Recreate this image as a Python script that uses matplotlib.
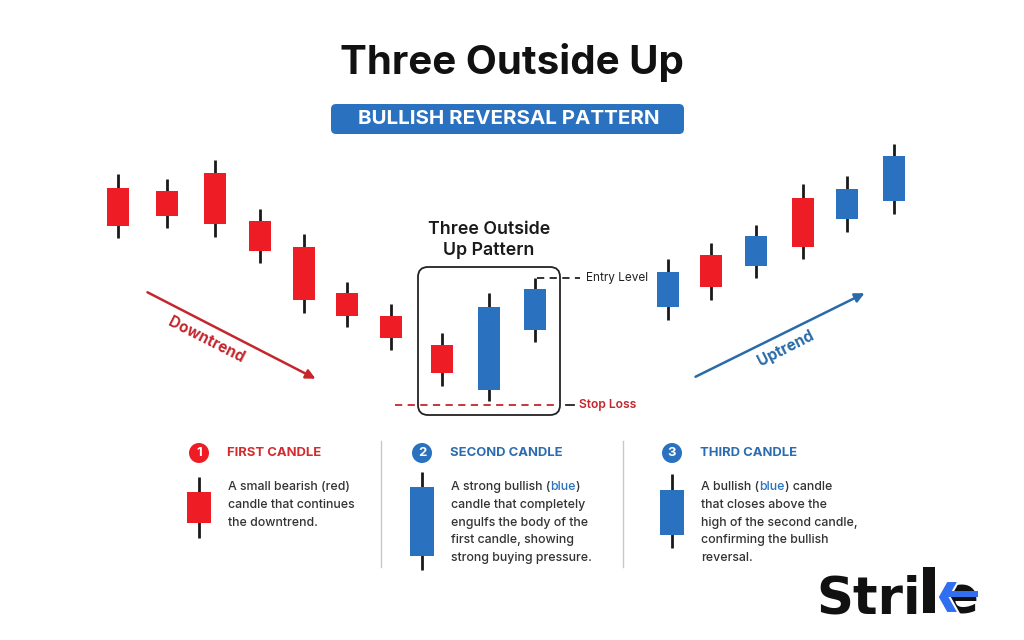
import matplotlib
matplotlib.use("Agg")
import matplotlib.pyplot as plt
from matplotlib.patches import FancyBboxPatch, Circle, Polygon, Rectangle

plt.rcParams["font.family"] = ["Inter", "DejaVu Sans"]

RED = "#ee1c25"
BLUE = "#2a72c0"
WICK = "#1a1a1a"
DARK_RED = "#c4262c"
TEXT = "#333333"

# candle data, in image rows (smaller = higher price)
candle_x = [118, 167, 215, 260, 304, 347, 391, 442, 489, 535, 668, 711, 756, 803, 847, 894]
highs = [174, 179, 160, 209, 234, 282, 304, 333, 293, 278, 259, 243, 225, 184, 176, 144]
opens = [188, 191, 173, 221, 247, 293, 316, 345, 390, 330, 307, 255, 266, 198, 219, 201]
closes = [226, 216, 224, 251, 300, 316, 338, 373, 307, 289, 272, 287, 236, 247, 189, 156]
lows = [238, 228, 237, 263, 313, 327, 350, 386, 401, 342, 320, 300, 278, 259, 232, 214]
bullish = [False] * 8 + [True, True, True, False, True, False, True, True]

# legend cards
card_x = [199, 422, 672]
card_titles = ["FIRST CANDLE", "SECOND CANDLE", "THIRD CANDLE"]
card_colors = [RED, BLUE, BLUE]
card_icon = [  # high, body top, body bottom, low
    (477, 492, 523, 538),
    (472, 487, 556, 570),
    (474, 490, 535, 548),
]
card_text = [
    [[("A small bearish (red)", TEXT)],
     [("candle that continues", TEXT)],
     [("the downtrend.", TEXT)]],
    [[("A strong bullish (", TEXT), ("blue", BLUE), (")", TEXT)],
     [("candle that completely", TEXT)],
     [("engulfs the body of the", TEXT)],
     [("first candle, showing", TEXT)],
     [("strong buying pressure.", TEXT)]],
    [[("A bullish (", TEXT), ("blue", BLUE), (") candle", TEXT)],
     [("that closes above the", TEXT)],
     [("high of the second candle,", TEXT)],
     [("confirming the bullish", TEXT)],
     [("reversal.", TEXT)]],
]

fig = plt.figure(figsize=(10.24, 6.4), dpi=100)
ax = fig.add_axes([0, 0, 1, 1])
ax.set_xlim(0, 1024)
ax.set_ylim(640, 0)
ax.axis("off")
renderer = fig.canvas.get_renderer()

# title + banner
ax.text(512, 63, "Three Outside Up", ha="center", va="center",
        fontsize=29, fontweight="bold", color="#111111")
ax.add_patch(FancyBboxPatch((331, 104), 353, 30, boxstyle="round,pad=0,rounding_size=5",
                            fc=BLUE, ec="none"))
ax.text(509, 119.5, "BULLISH REVERSAL PATTERN", ha="center", va="center",
        fontsize=14.8, fontweight="bold", color="white")

# candles
for x, h, o, c, l, up in zip(candle_x, highs, opens, closes, lows, bullish):
    col = BLUE if up else RED
    ax.vlines(x, h, l, color=WICK, lw=2, zorder=2)
    top, bot = min(o, c), max(o, c)
    ax.bar(x, bot - top, bottom=top, width=22, color=col, zorder=3)

# pattern box
ax.add_patch(FancyBboxPatch((418, 267), 142, 148, boxstyle="round,pad=0,rounding_size=10",
                            fc="none", ec="#222222", lw=1.3, zorder=4))
ax.text(489, 240, "Three Outside\nUp Pattern", ha="center", va="center",
        fontsize=12.8, fontweight="semibold", color="#1a1a1a", linespacing=1.25)

# entry / stop levels
ax.plot([537, 580], [highs[9], highs[9]], ls=(0, (4, 3)), color="#222222", lw=1.3)
ax.text(586, highs[9], "Entry Level", va="center", fontsize=8.5, color="#222222")
ax.plot([395, 557], [lows[8] + 4, lows[8] + 4], ls=(0, (4, 3)), color=DARK_RED, lw=1.3)
ax.plot([566, 574], [lows[8] + 4, lows[8] + 4], color="#222222", lw=1.3)
ax.text(579, lows[8] + 4, "Stop Loss", va="center", fontsize=8.7,
        fontweight="semibold", color=DARK_RED)

# trend arrows
ax.annotate("", xy=(318, 380), xytext=(145, 291),
            arrowprops=dict(arrowstyle="-|>", color=DARK_RED, lw=1.8, mutation_scale=14))
ax.text(206, 340, "Downtrend", ha="center", va="center", rotation=-27,
        fontsize=11, fontweight="bold", color=DARK_RED)
ax.annotate("", xy=(867, 292), xytext=(693, 378),
            arrowprops=dict(arrowstyle="-|>", color="#2a6aa8", lw=1.8, mutation_scale=14))
ax.text(786, 348, "Uptrend", ha="center", va="center", rotation=27,
        fontsize=11, fontweight="bold", color="#2a6aa8")


def rich_line(x, y, parts):
    for s, c in parts:
        t = ax.text(x, y, s, color=c, fontsize=8.9, fontweight="medium", va="center")
        x += t.get_window_extent(renderer=renderer).width


for i, cx in enumerate(card_x):
    col = card_colors[i]
    ax.add_patch(Circle((cx, 453), 10, fc=col, ec="none"))
    ax.text(cx, 453.5, str(i + 1), ha="center", va="center", fontsize=9.5,
            fontweight="bold", color="white")
    ax.text(cx + 28, 453, card_titles[i], va="center", fontsize=9.4,
            fontweight="bold", color="#d42a2e" if i == 0 else "#2b6cb0")
    h, bt, bb, l = card_icon[i]
    ax.vlines(cx, h, l, color=WICK, lw=2, zorder=2)
    ax.bar(cx, bb - bt, bottom=bt, width=24, color=col, zorder=3)
    for j, parts in enumerate(card_text[i]):
        rich_line(cx + 29, 487 + j * 17.8, parts)

for dx in [381, 623]:
    ax.plot([dx, dx], [441, 567], color="#c8c8c8", lw=1)

# logo: "Stri" + hand-built k with blue chevron + "e"
LOGO_BLUE = "#2f6ff0"
t = ax.text(816, 613, "Stri", va="baseline", ha="left", fontsize=37,
            fontweight="bold", family="DejaVu Sans", color="#111111")
kx = 816 + t.get_window_extent(renderer=renderer).width + 2
ax.add_patch(Rectangle((kx, 567), 12, 46, fc="#111111", ec="none"))
ax.text(kx + 21, 613, "e", va="baseline", ha="left", fontsize=37,
        fontweight="bold", family="DejaVu Sans", color="#111111", zorder=4)
ax.add_patch(Polygon([[kx + 24, 581], [kx + 15, 597], [kx + 24, 613], [kx + 36, 613],
                      [kx + 27, 597], [kx + 36, 581]],
                     closed=True, fc=LOGO_BLUE, ec="white", lw=1.5, zorder=5))
ax.add_patch(Rectangle((kx + 19, 591), 36, 6, fc=LOGO_BLUE, ec="none", zorder=6))

fig.savefig("out.png", dpi=100, facecolor="white")
